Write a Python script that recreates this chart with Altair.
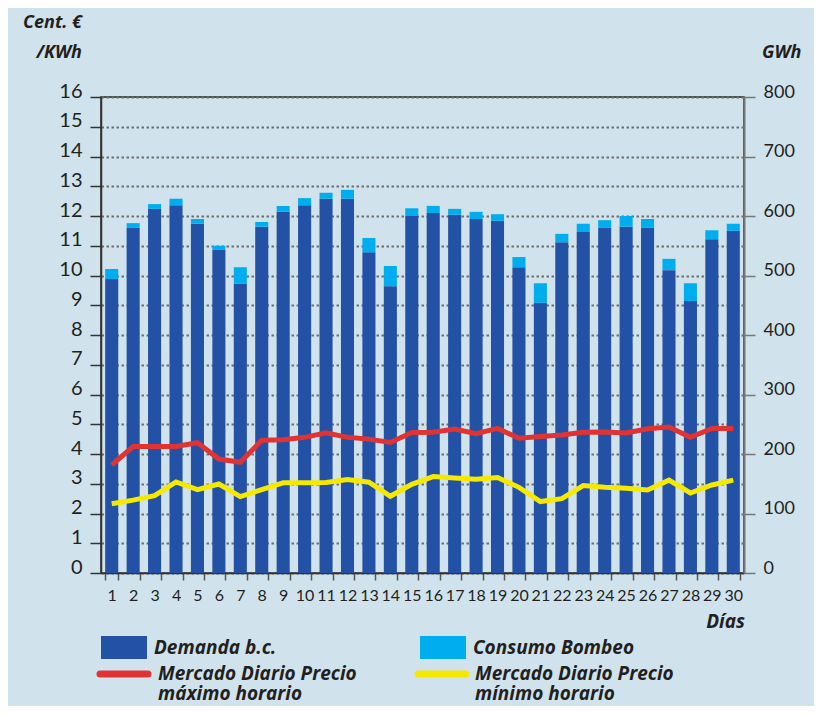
import altair as alt
import pandas as pd

# ---------------- data ----------------
days = list(range(1, 31))
demanda = [494, 580, 612, 618, 587, 543, 486, 582, 607, 618,
           629, 629, 539, 482, 600, 605, 602, 595, 592, 514,
           454, 556, 573, 580, 582, 580, 509, 457, 561, 575]
bombeo = [17, 8, 8, 11, 8, 7, 28, 8, 10, 12,
          10, 15, 24, 34, 13, 12, 10, 12, 11, 17,
          33, 14, 14, 13, 18, 15, 19, 30, 15, 12]
precio_max = [3.63, 4.25, 4.25, 4.25, 4.38, 3.83, 3.72, 4.46, 4.48, 4.56,
              4.71, 4.56, 4.50, 4.39, 4.72, 4.73, 4.84, 4.68, 4.86, 4.53,
              4.59, 4.64, 4.73, 4.74, 4.71, 4.85, 4.91, 4.56, 4.86, 4.86]
precio_min = [2.33, 2.45, 2.60, 3.06, 2.80, 2.99, 2.57, 2.80, 3.03, 3.03,
              3.04, 3.14, 3.05, 2.58, 2.98, 3.24, 3.19, 3.15, 3.21, 2.88,
              2.40, 2.50, 2.94, 2.88, 2.85, 2.79, 3.12, 2.69, 2.96, 3.12]
bar_series = ["Demanda b.c.", "Consumo Bombeo"]
line_series = ["Mercado Diario Precio\nmáximo horario", "Mercado Diario Precio\nmínimo horario"]
left_ticks = list(range(0, 17))
right_ticks = list(range(0, 801, 100))

# ---------------- style ----------------
FONT = "Lato"
TFONT = "Open Sans"
BG = "#d0e3ec"
DARK = "#2351a5"
LIGHT = "#00adef"
RED = "#e03434"
YELLOW = "#f5e900"
TXT = "#231f20"

bars_df = pd.DataFrame({
    "dia": days * 2,
    "serie": [bar_series[0]] * 30 + [bar_series[1]] * 30,
    "orden": [0] * 30 + [1] * 30,
    "gwh": demanda + bombeo,
})
lines_df = pd.DataFrame({
    "dia": days * 2,
    "serie": [line_series[0]] * 30 + [line_series[1]] * 30,
    "precio": precio_max + precio_min,
})

xscale = alt.Scale(type="band", paddingInner=0.39, paddingOuter=0.195)
xaxis = alt.Axis(title=None, labelAngle=0, tickBand="extent", tickSize=7,
                 tickColor="#555", tickWidth=1.5, domainColor="#333", domainWidth=1.5,
                 labelFontSize=16, labelPadding=7, labelColor=TXT, labelFont=FONT,
                 grid=False)

bars = alt.Chart(bars_df).mark_bar().encode(
    x=alt.X("dia:O", scale=xscale, axis=xaxis),
    y=alt.Y("gwh:Q", stack="zero",
            scale=alt.Scale(domain=[0, 800], nice=False, zero=True),
            axis=alt.Axis(orient="right", values=right_ticks, tickSize=11,
                          tickColor="#777", tickWidth=1.5, domainColor="#777",
                          domainWidth=2, grid=False, title=None,
                          labelFontSize=18, labelPadding=8, labelFont=FONT,
                          labelColor=TXT, labelBaseline="alphabetic")),
    color=alt.Color("serie:N", scale=alt.Scale(domain=bar_series, range=[DARK, LIGHT]),
                    legend=None),
    order=alt.Order("orden:Q"),
)

lines = alt.Chart(lines_df).mark_line(strokeWidth=5).encode(
    x=alt.X("dia:O", scale=xscale, axis=xaxis),
    y=alt.Y("precio:Q", scale=alt.Scale(domain=[0, 16], nice=False, zero=True),
            axis=alt.Axis(orient="left", values=left_ticks, tickSize=11,
                          tickColor="#333", tickWidth=1.5, domainColor="#333",
                          domainWidth=1.5, grid=True, gridDash=[2.5, 2.5],
                          gridColor="#6f6f6f", gridWidth=1.8, title=None,
                          labelFontSize=20, labelPadding=8, labelFont=FONT,
                          labelColor=TXT, labelBaseline="alphabetic")),
    stroke=alt.Stroke("serie:N", scale=alt.Scale(domain=line_series, range=[RED, YELLOW]),
                      legend=None),
)

one = pd.DataFrame({"k": [0]})


def label(text, x, y, align="left", size=19):
    return alt.Chart(one).mark_text(
        font=TFONT, fontSize=size, fontStyle="italic", fontWeight="bold",
        color=TXT, align=align, baseline="alphabetic", lineBreak="\n", lineHeight=20
    ).encode(x=alt.value(x), y=alt.value(y), text=alt.value(text))


def swatch(color, x):
    return alt.Chart(one).mark_rect(color=color).encode(
        x=alt.value(x), x2=alt.value(x + 46), y=alt.value(539), y2=alt.value(562))


def stroke_key(color, x):
    return alt.Chart(one).mark_rule(color=color, strokeWidth=7, strokeCap="round").encode(
        x=alt.value(x), x2=alt.value(x + 48), y=alt.value(577))


decor = [
    label("Cent. €", -19, -69, align="right", size=18),
    label("/KWh", -19, -39, align="right", size=18),
    label("GWh", 661, -39, size=18),
    label("Días", 644, 531, align="right", size=19),
    swatch(DARK, 0),
    label(bar_series[0], 53, 557),
    swatch(LIGHT, 319),
    label(bar_series[1], 372, 557),
    stroke_key(RED, -1),
    label(line_series[0], 57, 583),
    stroke_key(YELLOW, 317),
    label(line_series[1], 374, 583),
]

chart = alt.layer(bars, lines, *decor).resolve_scale(
    y="independent"
).properties(
    width=643, height=476,
    autosize=alt.AutoSizeParams(type="none"),
    padding={"left": 93, "top": 89, "right": 70, "bottom": 133},
    background=BG,
).configure_view(stroke="#222", strokeWidth=1.5)

chart.save("out.html", embed_options={"renderer": "svg", "actions": False})
